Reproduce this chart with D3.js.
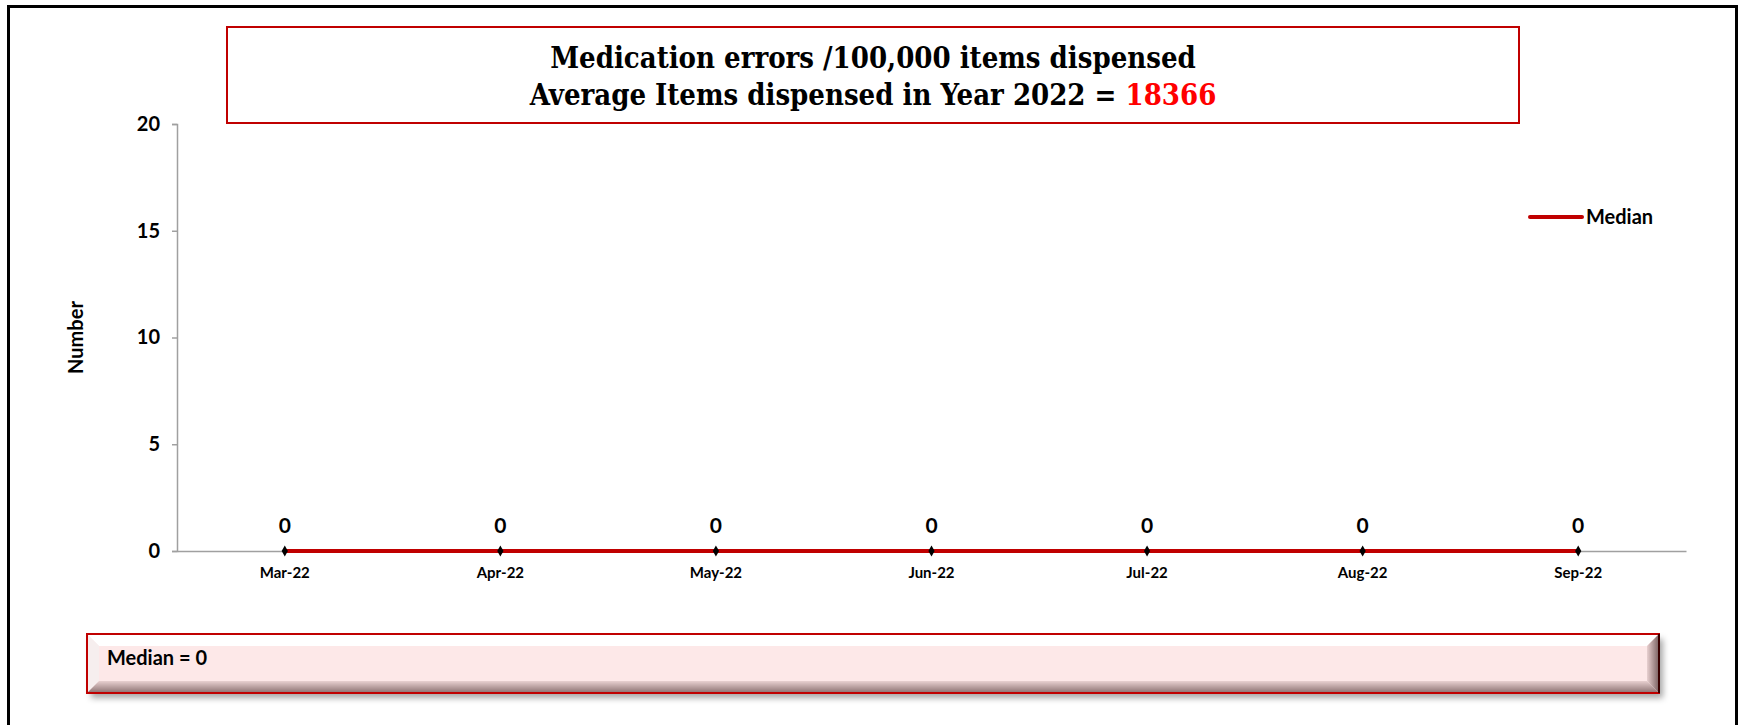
<!DOCTYPE html>
<html>
<head>
  <title>Medication errors</title>
  <script src="https://d3js.org/d3.v7.min.js"></script>
  <style>
    body, html {
      margin: 0;
      padding: 0;
      overflow: hidden;
      background: #fff;
    }
    text {
      font-family: Lato, "Open Sans", sans-serif;
      font-weight: bold;
    }
    .title {
      font-family: "DejaVu Serif Condensed", "DejaVu Serif", serif;
      font-weight: bold;
      font-size: 29px;
    }
  </style>
</head>
<body>
  <div id="chart"></div>

  <script>
    // Chart data
    const months = ["Mar-22", "Apr-22", "May-22", "Jun-22", "Jul-22", "Aug-22", "Sep-22"];
    const errors = [0, 0, 0, 0, 0, 0, 0];
    const median = [0, 0, 0, 0, 0, 0, 0];
    const yTicks = [0, 5, 10, 15, 20];
    const titleLine1 = "Medication errors /100,000 items dispensed";
    const titleLine2 = "Average Items dispensed in Year 2022 = ";
    const avgItems = "18366";
    const medianNote = "Median = 0";

    const width = 1743;
    const height = 725;
    const margin = { top: 124, right: 57, bottom: 174, left: 177 };

    const svg = d3.select("#chart")
      .append("svg")
      .attr("width", width)
      .attr("height", height);

    const defs = svg.append("defs");

    // outer frame
    svg.append("rect")
      .attr("x", 8.5).attr("y", 6.5)
      .attr("width", 1728).attr("height", 740)
      .attr("fill", "none")
      .attr("stroke", "#000")
      .attr("stroke-width", 3);

    // title box
    svg.append("rect")
      .attr("x", 227).attr("y", 27)
      .attr("width", 1292).attr("height", 96)
      .attr("fill", "#fff")
      .attr("stroke", "#c00000")
      .attr("stroke-width", 2);

    svg.append("text")
      .attr("class", "title")
      .attr("x", 873).attr("y", 68)
      .attr("text-anchor", "middle")
      .text(titleLine1);

    const t2 = svg.append("text")
      .attr("class", "title")
      .attr("x", 873).attr("y", 105)
      .attr("text-anchor", "middle");
    t2.append("tspan").text(titleLine2);
    t2.append("tspan").attr("fill", "#ff0000").text(avgItems);

    // scales
    const x = d3.scaleBand()
      .domain(months)
      .range([margin.left, width - margin.right]);

    const y = d3.scaleLinear()
      .domain([0, 20])
      .range([height - margin.bottom, margin.top]);

    const cx = d => x(d) + x.bandwidth() / 2;

    // y axis
    const yAxis = svg.append("g")
      .attr("transform", `translate(${margin.left},0)`)
      .call(d3.axisLeft(y).tickValues(yTicks).tickSize(5).tickPadding(12));
    yAxis.select(".domain").attr("stroke", "#a0a0a0").attr("stroke-width", 1.5);
    yAxis.selectAll(".tick line").attr("stroke", "#a0a0a0").attr("stroke-width", 1.5);
    yAxis.selectAll(".tick text")
      .attr("fill", "#000")
      .style("font-size", "20px")
      .style("font-family", "Lato, sans-serif")
      .style("font-weight", "bold");

    // x axis
    const xAxis = svg.append("g")
      .attr("transform", `translate(0,${y(0)})`)
      .call(d3.axisBottom(x).tickSize(0).tickPadding(16).tickSizeOuter(0));
    xAxis.select(".domain").attr("stroke", "#a0a0a0").attr("stroke-width", 1.5);
    xAxis.selectAll(".tick text")
      .attr("fill", "#000")
      .style("font-size", "15px")
      .style("font-family", "Lato, sans-serif")
      .style("font-weight", "bold");

    // y axis title
    svg.append("text")
      .attr("transform", `translate(83,${(y(0) + y(20)) / 2}) rotate(-90)`)
      .attr("text-anchor", "middle")
      .style("font-size", "20px")
      .text("Number");

    // series and median lines
    const line = d3.line()
      .x((d, i) => cx(months[i]))
      .y(d => y(d));

    svg.append("path")
      .datum(errors)
      .attr("fill", "none")
      .attr("stroke", "#000")
      .attr("stroke-width", 1.5)
      .attr("d", line);

    svg.append("path")
      .datum(median)
      .attr("fill", "none")
      .attr("stroke", "#c00000")
      .attr("stroke-width", 4)
      .attr("d", line);

    // markers
    svg.append("g")
      .selectAll("path")
      .data(errors)
      .join("path")
      .attr("d", d3.symbol(d3.symbolDiamond, 34))
      .attr("transform", (d, i) => `translate(${cx(months[i])},${y(d)})`)
      .attr("fill", "#000");

    // data labels
    svg.append("g")
      .selectAll("text")
      .data(errors)
      .join("text")
      .attr("x", (d, i) => cx(months[i]))
      .attr("y", d => y(d) - 18)
      .attr("text-anchor", "middle")
      .style("font-size", "21px")
      .text(d => d);

    // legend
    const lg = svg.append("g").attr("transform", "translate(1530,217)");
    lg.append("line")
      .attr("x1", 0).attr("x2", 52)
      .attr("stroke", "#c00000")
      .attr("stroke-width", 4)
      .attr("stroke-linecap", "round");
    lg.append("text")
      .attr("x", 56).attr("y", 7)
      .style("font-size", "20px")
      .text("Median");

    // median note box (bevelled)
    const bx = 87, by = 634, bw = 1572, bh = 59, bev = 12;

    const shadow = defs.append("filter").attr("id", "shadow")
      .attr("x", "-2%").attr("y", "-20%").attr("width", "104%").attr("height", "150%");
    shadow.append("feDropShadow")
      .attr("dx", 4).attr("dy", 5).attr("stdDeviation", 3)
      .attr("flood-color", "#000").attr("flood-opacity", 0.35);

    const gb = svg.append("g");
    gb.append("rect")
      .attr("x", bx).attr("y", by).attr("width", bw).attr("height", bh)
      .attr("fill", "#fde8e8")
      .attr("filter", "url(#shadow)");

    const botGrad = defs.append("linearGradient").attr("id", "botGrad")
      .attr("x1", 0).attr("y1", 0).attr("x2", 0).attr("y2", 1);
    botGrad.append("stop").attr("offset", 0).attr("stop-color", "#e8d0d0");
    botGrad.append("stop").attr("offset", 1).attr("stop-color", "#8a7070");

    const rightGrad = defs.append("linearGradient").attr("id", "rightGrad")
      .attr("x1", 0).attr("y1", 0).attr("x2", 1).attr("y2", 0);
    rightGrad.append("stop").attr("offset", 0).attr("stop-color", "#e8d0d0");
    rightGrad.append("stop").attr("offset", 1).attr("stop-color", "#7a6060");

    // top bevel
    gb.append("path")
      .attr("d", `M${bx},${by} H${bx + bw} L${bx + bw - bev},${by + bev} H${bx + bev} Z`)
      .attr("fill", "#ffffff");
    // left bevel
    gb.append("path")
      .attr("d", `M${bx},${by} L${bx + bev},${by + bev} V${by + bh - bev} L${bx},${by + bh} Z`)
      .attr("fill", "#f6eeee");
    // bottom bevel
    gb.append("path")
      .attr("d", `M${bx},${by + bh} L${bx + bev},${by + bh - bev} H${bx + bw - bev} L${bx + bw},${by + bh} Z`)
      .attr("fill", "url(#botGrad)");
    // right bevel
    gb.append("path")
      .attr("d", `M${bx + bw},${by} L${bx + bw - bev},${by + bev} V${by + bh - bev} L${bx + bw},${by + bh} Z`)
      .attr("fill", "url(#rightGrad)");

    gb.append("rect")
      .attr("x", bx).attr("y", by).attr("width", bw).attr("height", bh)
      .attr("fill", "none")
      .attr("stroke", "#c00000")
      .attr("stroke-width", 2);
    gb.append("line")
      .attr("x1", bx + bw).attr("x2", bx + bw)
      .attr("y1", by).attr("y2", by + bh)
      .attr("stroke", "#3a0000").attr("stroke-width", 2);

    gb.append("text")
      .attr("x", 107).attr("y", 665)
      .style("font-size", "20px")
      .text(medianNote);
  </script>
</body>
</html>
